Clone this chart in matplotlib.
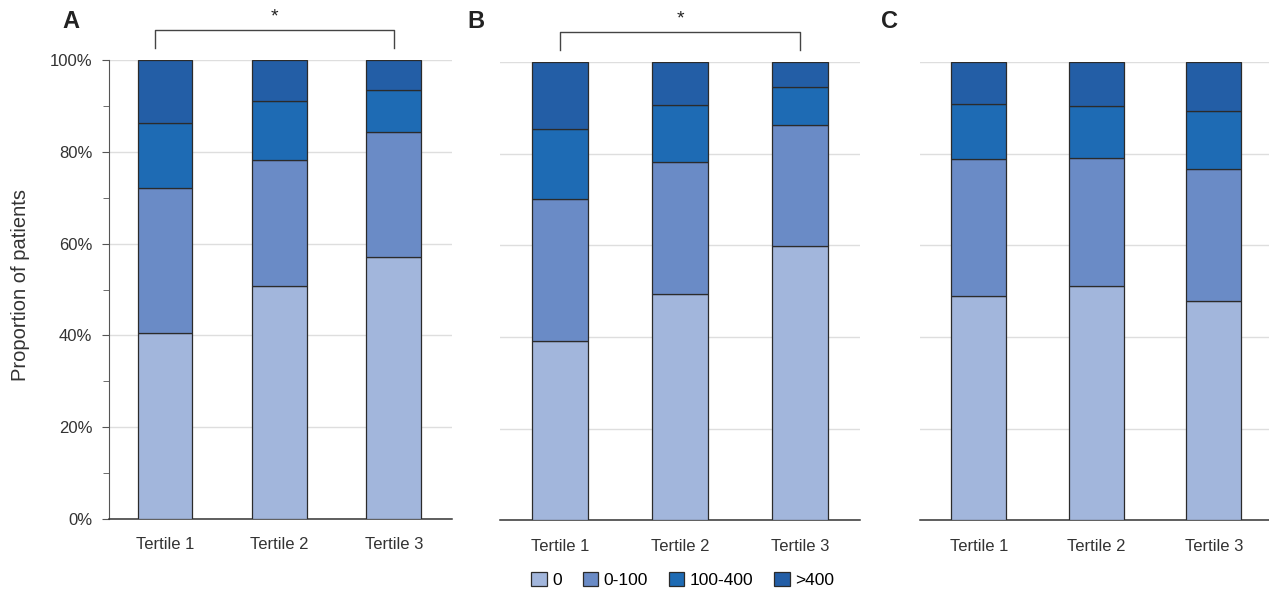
import matplotlib
matplotlib.use("Agg")
from matplotlib import pyplot as plt
from matplotlib.ticker import MultipleLocator, FuncFormatter

plt.rcParams['font.family'] = ['Liberation Sans', 'DejaVu Sans']

tertiles = ["Tertile 1", "Tertile 2", "Tertile 3"]
groups = ["0", "0-100", "100-400", ">400"]
colors = ["#a2b6dc", "#6a8bc6", "#1e6bb4", "#235ea6"]

# percent of patients per group, for tertile 1..3
a_vals = {
    "0": [40.5, 50.8, 57.1],
    "0-100": [31.6, 27.4, 27.2],
    "100-400": [14.2, 12.9, 9.1],
    ">400": [13.7, 8.9, 6.6],
}
b_vals = {
    "0": [39.1, 49.3, 59.8],
    "0-100": [31.1, 28.8, 26.5],
    "100-400": [15.3, 12.5, 8.2],
    ">400": [14.5, 9.4, 5.5],
}
c_vals = {
    "0": [49.0, 51.2, 47.9],
    "0-100": [29.8, 27.8, 28.7],
    "100-400": [12.0, 11.5, 12.8],
    ">400": [9.2, 9.5, 10.6],
}

fig = plt.figure(figsize=(12.69, 5.90), dpi=100)

panels = [
    ("A", a_vals, [0.0859, 0.1203, 0.2703, 0.778], (-0.49, 2.51), 0.48, True),
    ("B", b_vals, [0.3940, 0.1178, 0.2837, 0.777], (-0.50, 2.50), 0.467, False),
    ("C", c_vals, [0.7250, 0.1178, 0.2750, 0.777], (-0.50, 2.47), 0.47, False),
]

x = [0, 1, 2]
axes = []
for name, vals, pos, xl, w, show_y in panels:
    ax = fig.add_axes(pos)
    bottom = [0, 0, 0]
    for g, col in zip(groups, colors):
        ax.bar(x, vals[g], w, bottom=bottom, color=col, edgecolor="#2b2b2b",
               linewidth=0.9, label=g, zorder=3)
        bottom = [b + v for b, v in zip(bottom, vals[g])]
    ax.set_xlim(*xl)
    ax.set_ylim(0, 100)
    ax.yaxis.set_major_locator(MultipleLocator(20))
    ax.grid(axis="y", color="#dedede", linewidth=1, zorder=0)
    ax.set_axisbelow(True)
    for s in ["top", "right"]:
        ax.spines[s].set_visible(False)
    ax.spines["bottom"].set_color("#333333")
    ax.spines["bottom"].set_linewidth(1.1)
    ax.set_xticks(x)
    ax.set_xticklabels(tertiles, fontsize=12, color="#333333")
    ax.tick_params(axis="x", length=0, pad=13)
    if show_y:
        ax.yaxis.set_minor_locator(MultipleLocator(10))
        ax.yaxis.set_major_formatter(FuncFormatter(lambda v, p: f"{int(v)}%"))
        ax.spines["left"].set_color("#555555")
        ax.tick_params(axis="y", which="major", length=5, color="#555555",
                       labelsize=12, labelcolor="#333333", pad=7)
        ax.tick_params(axis="y", which="minor", length=4, color="#555555")
        ax.set_ylabel("Proportion of patients", fontsize=14.5, color="#333333")
        ax.yaxis.set_label_coords(-0.231, 0.51)
    else:
        ax.spines["left"].set_visible(False)
        ax.tick_params(axis="y", length=0, labelleft=False)
    axes.append(ax)

# significance brackets on A and B
for ax, left, right in [(axes[0], -0.09, 2.0), (axes[1], 0.0, 2.0)]:
    ax.plot([left, left, right, right], [102.6, 106.6, 106.6, 102.6],
            color="#444444", linewidth=1, clip_on=False)
    ax.text((left + right) / 2, 109.4, "*", ha="center", va="center",
            fontsize=14, color="#222222", clip_on=False)

fig.text(0.0489, 0.964, "A", fontsize=17, fontweight="bold", va="center", color="#222222")
fig.text(0.3680, 0.964, "B", fontsize=17, fontweight="bold", va="center", color="#222222")
fig.text(0.6940, 0.964, "C", fontsize=17, fontweight="bold", va="center", color="#222222")

handles, labels = axes[0].get_legend_handles_labels()
fig.legend(handles, labels, loc="center", bbox_to_anchor=(0.538, 0.017),
           ncol=4, frameon=False, fontsize=12.5, handlelength=0.9,
           handleheight=0.9, handletextpad=0.3, columnspacing=1.2)

fig.savefig("out.png", dpi=100)
